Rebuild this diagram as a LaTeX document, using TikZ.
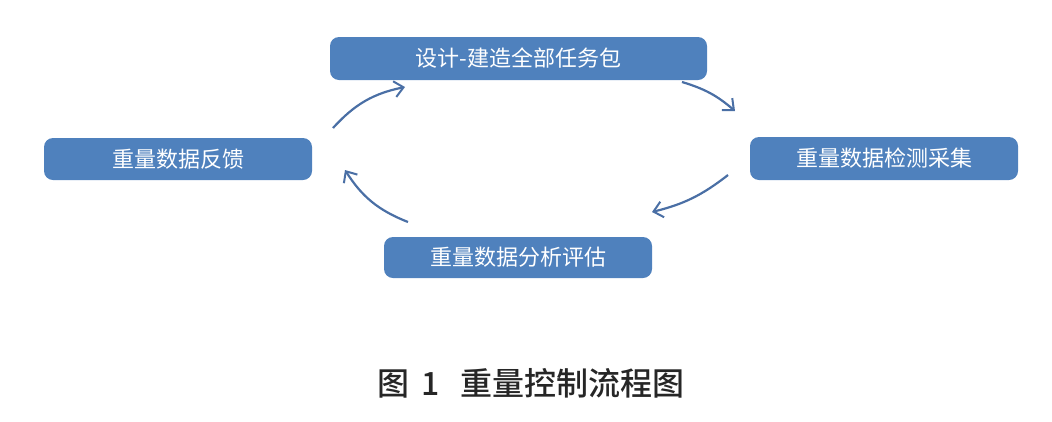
\documentclass[tikz,border=0pt]{standalone}
\usepackage{fontspec}
\newfontfamily\cjk{Noto Sans CJK SC}
\newfontfamily\cjkmed{Noto Sans CJK SC Medium}
\usetikzlibrary{arrows.meta}
\definecolor{boxblue}{HTML}{4F81BD}
\definecolor{arrowblue}{HTML}{4A6FA5}
\begin{document}
\begin{tikzpicture}[x=1pt,y=-1pt,
  stepbox/.style={draw=none,fill=boxblue,rounded corners=9pt,text=white,
    font=\cjk\fontsize{22}{24}\selectfont,inner sep=0pt,anchor=center},
  flow/.style={draw=arrowblue,line width=2.2pt,
    -{Straight Barb[length=9pt,width=16pt,line width=2pt]},bend left=18}]
\useasboundingbox (0,0) rectangle (1052,421);
\node[stepbox,minimum width=377pt,minimum height=43pt] (top) at (518.5,58.5) {设计-建造全部任务包};
\node[stepbox,minimum width=268pt,minimum height=42pt] (left) at (178,159) {重量数据反馈};
\node[stepbox,minimum width=268pt,minimum height=43pt] (right) at (884,158.5) {重量数据检测采集};
\node[stepbox,minimum width=268pt,minimum height=41pt] (bottom) at (518,257.5) {重量数据分析评估};
\coordinate (a1) at (333,128);
\coordinate (a2) at (405,87);
\coordinate (b1) at (682,82);
\coordinate (b2) at (735,111);
\coordinate (c1) at (728,175);
\coordinate (c2) at (652,212);
\coordinate (d1) at (408,222);
\coordinate (d2) at (345,170);
\draw[flow] (a1) to (a2);
\draw[flow,bend left=12] (b1) to (b2);
\draw[flow,bend left=12] (c1) to (c2);
\draw[flow] (d1) to (d2);
\node[font=\cjkmed\fontsize{32}{34}\selectfont,text=black!85] (cap) at (531,383) {图\hspace{12pt}1\hspace{20pt}重量控制流程图};
\end{tikzpicture}
\end{document}
